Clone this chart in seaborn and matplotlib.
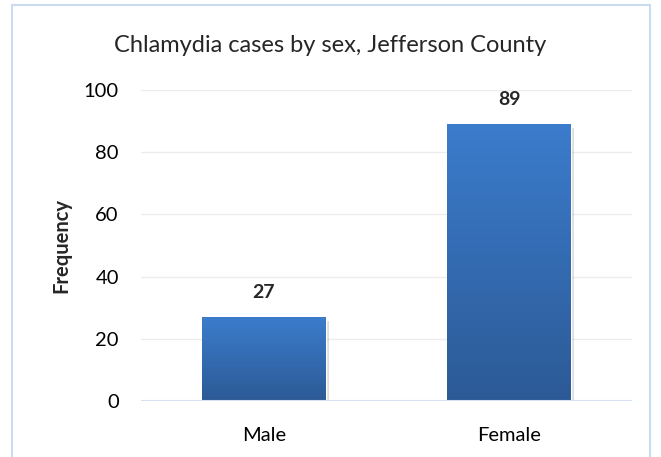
import numpy as np
import pandas as pd
import seaborn as sns
import matplotlib.pyplot as plt
from matplotlib.patches import Rectangle
from matplotlib.colors import LinearSegmentedColormap

# data
sexes = ["Male", "Female"]
cases = [27, 89]
y_ticks = [0, 20, 40, 60, 80, 100]

sns.set_theme(style="white")
plt.rcParams["font.family"] = ["Lato", "DejaVu Sans"]

df = pd.DataFrame({"Sex": sexes, "Cases": cases})

fig = plt.figure(figsize=(6.61, 4.57), dpi=100)
ax = fig.add_axes([141 / 661, 1 - 401 / 457, (632 - 141) / 661, 311 / 457])

sns.barplot(data=df, x="Sex", y="Cases", ax=ax, width=0.505, color="#3A78C6",
            saturation=1, zorder=3)

# gradient fill + soft shadow on each bar
grad = LinearSegmentedColormap.from_list("g", ["#2C5A96", "#3B7CCC"])
for p in list(ax.patches):
    x0, y0, w, h = p.get_x(), p.get_y(), p.get_width(), p.get_height()
    sh = Rectangle((x0 + 0.012, y0 - 1.3), w, h, facecolor="#000000", alpha=0.13,
                   edgecolor="none", zorder=2)
    ax.add_patch(sh)
    im = ax.imshow(np.linspace(0, 1, 256).reshape(-1, 1), cmap=grad, aspect="auto",
                   extent=[x0, x0 + w, y0, y0 + h], origin="lower", zorder=4)
    im.set_clip_path(p)
    p.set_facecolor("none")

ax.set_xlim(-0.5, 1.5)
ax.set_ylim(0, 100)
ax.set_yticks(y_ticks)
ax.grid(axis="y", color="#ECECEC", linewidth=1, zorder=0)
ax.axhline(0, color="#D5E1F1", linewidth=1.5, zorder=5)
for s in ax.spines.values():
    s.set_visible(False)

ax.tick_params(axis="both", length=0, labelsize=14.5, colors="#000000")
ax.tick_params(axis="y", pad=16)
ax.tick_params(axis="x", pad=19)
ax.set_xlabel("")
ax.set_ylabel("Frequency", fontsize=14.5, fontweight="bold", labelpad=9)

for i, v in enumerate(cases):
    ax.text(i, v + 8, str(v), ha="center", va="center", fontsize=14, fontweight="bold")

fig.text(0.5, 1 - 45 / 457, "Chlamydia cases by sex, Jefferson County",
         ha="center", va="center", fontsize=17)

# chart border
fig.patches.append(Rectangle((12 / 661, -0.02), (650 - 12) / 661, 1 - 5 / 457 + 0.02,
                             transform=fig.transFigure, fill=False,
                             edgecolor="#CCDCF0", linewidth=1.5))

fig.savefig("out.png", dpi=100)
